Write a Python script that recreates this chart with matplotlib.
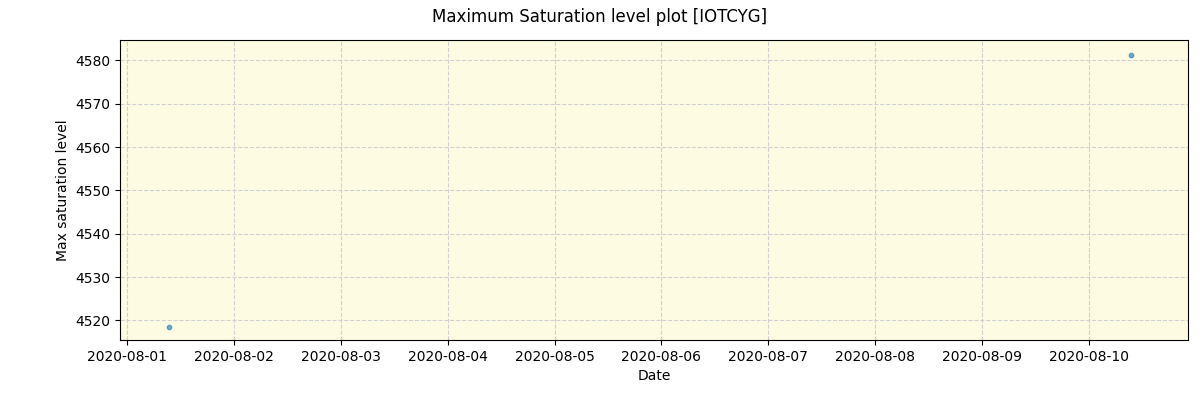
import matplotlib
matplotlib.use("Agg")
import matplotlib.pyplot as plt
import matplotlib.dates as mdates
import pandas as pd

dates = pd.to_datetime(["2020-08-01 09:20", "2020-08-10 09:20"])
values = [4518.6, 4581.3]

fig = plt.figure(figsize=(12, 4), dpi=100)
ax = fig.add_axes([0.1, 0.15, 0.89, 0.75])
ax.set_facecolor("#fdfce2")
ax.scatter(dates, values, s=10, color="#1f77b4", alpha=0.6)
ax.grid(True, linestyle="--", color="#d0d0d0")
ax.set_axisbelow(True)
ax.xaxis.set_major_locator(mdates.DayLocator())
ax.xaxis.set_major_formatter(mdates.DateFormatter("%Y-%m-%d"))
ax.set_xlim(pd.Timestamp("2020-07-31 22:26"), pd.Timestamp("2020-08-10 22:13"))
ax.set_ylim(4515.5, 4584.7)
ax.set_xlabel("Date")
ax.set_ylabel("Max saturation level")
fig.suptitle("Maximum Saturation level plot [IOTCYG]")
fig.savefig("out.png")
